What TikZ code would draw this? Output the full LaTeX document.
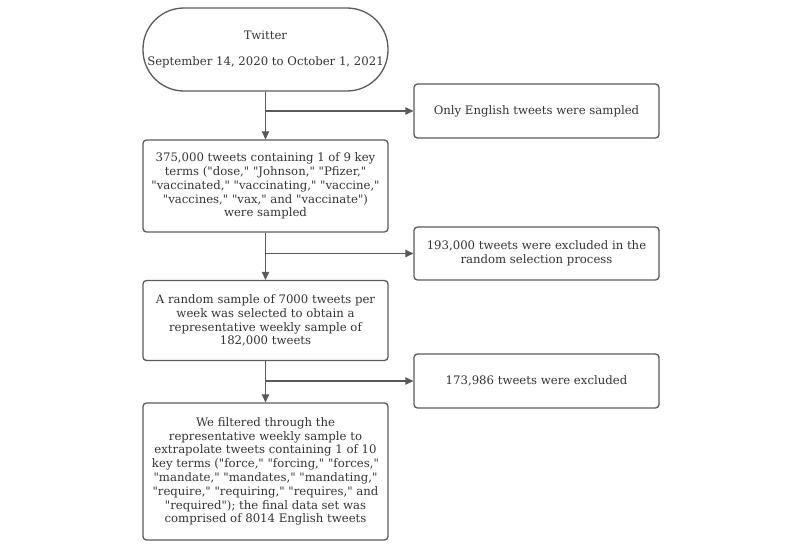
\documentclass[tikz,border=0pt]{standalone}
\usepackage{fontspec}
\setmainfont{DejaVu Serif}[Ligatures=TeXOff]
\usepackage{tikz}
\usetikzlibrary{positioning,arrows.meta}
\definecolor{linegray}{HTML}{5A5A5A}
\definecolor{textgray}{HTML}{333333}

\begin{document}
\begin{tikzpicture}[node distance=1.5cm,on grid,
	every node/.style={font=\fontsize{11.7}{13.8}\selectfont,text=textgray},
	source/.style={draw=linegray,line width=1.3pt,rounded corners=41pt,minimum width=245pt,minimum height=83pt,align=center},
	stage/.style={draw=linegray,line width=1.3pt,rounded corners=3.5pt,minimum width=245pt,align=center,inner sep=0pt},
	flow/.style={draw=linegray,line width=1.1pt,-{Triangle[length=8pt,width=7.5pt]}}]
	\useasboundingbox (-265.5pt,49.5pt) rectangle (534.5pt,-501.5pt);
	\node[source] (twitter) {Twitter\\[13pt]September 14, 2020 to October 1, 2021};
	\node[stage,minimum height=92pt] (s_1) [below=136.5pt of twitter] {375,000 tweets containing 1 of 9 key\\terms ("dose," "Johnson," "Pfizer,"\\"vaccinated," "vaccinating," "vaccine,"\\"vaccines," "vax," and "vaccinate")\\were sampled};
	\node[stage,minimum height=80pt] (s_2) [below=134.5pt of s_1] {A random sample of 7000 tweets per\\week was selected to obtain a\\representative weekly sample of\\182,000 tweets};
	\node[stage,minimum height=137pt] (s_3) [below=151pt of s_2] {We filtered through the\\representative weekly sample to\\extrapolate tweets containing 1 of 10\\key terms ("force," "forcing," "forces,"\\"mandate," "mandates," "mandating,"\\"require," "requiring," "requires," and\\"required"); the final data set was\\comprised of 8014 English tweets};
	
	\node[stage,minimum height=54pt] (e_1) [below right=61.5pt and 271pt of twitter] {Only English tweets were sampled};
	\node[stage,minimum height=53pt] (e_2) [below right=67.5pt and 271pt of s_1] {193,000 tweets were excluded in the\\random selection process};
	\node[stage,minimum height=54pt] (e_3) [below right=60.5pt and 271pt of s_2] {173,986 tweets were excluded};
	
	\path[flow] (twitter) -- (s_1);
	\path[flow] (s_1) -- (s_2);
	\path[flow] (s_2) -- (s_3);
	\path[flow] (twitter.south |- e_1.west) -- (e_1.west);
	\path[flow] (s_1.south |- e_2.west) -- (e_2.west);
	\path[flow] (s_2.south |- e_3.west) -- (e_3.west);
\end{tikzpicture}
\end{document}
